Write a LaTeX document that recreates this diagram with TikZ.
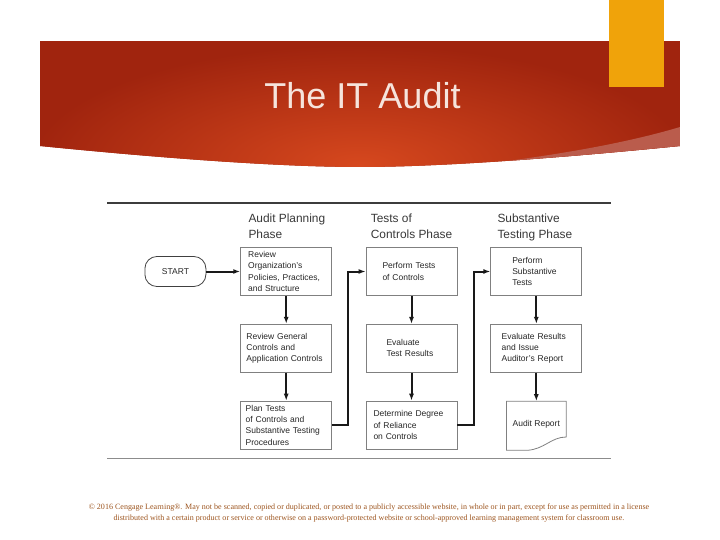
\documentclass[tikz,border=0pt]{standalone}
\usepackage{fontspec}
\setmainfont{Liberation Sans}
\newfontfamily\notefont{Liberation Serif}
\usetikzlibrary{arrows.meta,positioning,calc}
\definecolor{bc}{RGB}{160,36,14}
\definecolor{hc}{RGB}{214,72,30}
\definecolor{sc}{RGB}{186,92,76}
\definecolor{oc}{RGB}{240,163,10}
\definecolor{tc}{RGB}{246,228,220}
\definecolor{fc}{RGB}{156,84,30}
\definecolor{ln}{RGB}{60,60,60}
\tikzset{stage/.style={draw=black!50,line width=.8pt,minimum width=91pt,minimum height=48pt,inner sep=0pt,align=left,text=black!85,font=\fontsize{8.5}{11.3}\selectfont},
 hdr/.style={anchor=north west,inner sep=0pt,align=left,text=black!78,font=\fontsize{11.9}{15.3}\selectfont},
 term/.style={draw=black!75,line width=.8pt,rounded corners=12pt,minimum width=61pt,minimum height=30pt,font=\fontsize{8.5}{11}\selectfont,text=black!85},
 arr/.style={-{Latex[length=7pt,width=5pt]},line width=2pt,black!90},
 rule/.style={line width=1.8pt,ln}}

\begin{document}
\begin{tikzpicture}[x=1pt,y=-1pt,node distance=28pt]
\useasboundingbox (0,0) rectangle (720,540);
% banner
\begin{scope}
\clip (40,41) -- (680,41) -- (680,146) .. controls (520,162) and (420,167) .. (360,167) .. controls (300,167) and (200,162) .. (40,146) -- cycle;
\fill[bc] (40,41) rectangle (680,170);
\shade[inner color=hc,outer color=bc] (360,165) ellipse (330 and 120);
\fill[sc] (680,127) .. controls (620,145) and (540,158) .. (450,168) -- (680,170) -- cycle;
\end{scope}
\fill[oc] (609,0) rectangle (664,86.7);
\node[anchor=base,inner sep=0pt,font=\fontsize{36}{40}\selectfont,text=tc] (title) at (362.5,108.3) {The IT Audit};
% rules
\draw[rule] (107,202.7) -- (611,202.7);
\draw[line width=1.4pt,black!45] (107,458.5) -- (611,458.5);
% headers
\node[hdr] (h1) at (248.3,214) {Audit Planning\\Phase};
\node[hdr] (h2) at (370.7,214) {Tests of\\Controls Phase};
\node[hdr] (h3) at (497.3,214) {Substantive\\Testing Phase};
% planning
\node[stage,text width=76pt] (p1) at (286.2,271.5) {Review\\Organization's\\Policies, Practices,\\and Structure};
\node[stage,text width=79.5pt,below=of p1] (p2) {Review General\\Controls and\\Application Controls};
\node[stage,text width=81pt,below=of p2] (p3) {Plan Tests\\of Controls and\\Substantive Testing\\Procedures};
\node[term,left=34pt of p1] (start) {START};
% tests of controls
\node[stage,text width=58pt,right=33.5pt of p1] (c1) {Perform Tests\\of Controls};
\node[stage,text width=50pt,below=of c1] (c2) {Evaluate\\Test Results};
\node[stage,text width=76pt,below=of c2] (c3) {Determine Degree\\of Reliance\\on Controls};
% substantive
\node[stage,text width=48pt,right=33pt of c1] (s1) {Perform\\Substantive\\Tests};
\node[stage,text width=69.4pt,below=of s1] (s2) {Evaluate Results\\and Issue\\Auditor's Report};
\node[stage,draw=none,minimum width=59pt,minimum height=48.3pt,below=28.5pt of s2] (doc) {\raisebox{4.5pt}{Audit Report}};
\draw[draw=black!50,line width=.8pt] (doc.south west) |- (doc.north east) -- ($(doc.south east)+(0,-13.3)$) .. controls ($(doc.south east)+(-15,-13.3)$) and ($(doc.south)+(8,-1)$) .. ($(doc.south)+(-9,0)$) -- cycle;
% arrows
\draw[arr] (start) -- (p1);
\foreach \a/\b in {p1/p2,p2/p3,c1/c2,c2/c3,s1/s2,s2/doc}{\draw[arr] (\a)--(\b);}
\draw[arr] (p3.east) -- ++(16,0) |- (c1.west);
\draw[arr] (c3.east) -- ++(16.5,0) |- (s1.west);
% footer
\node[align=center,inner sep=0pt,text=fc,font=\notefont\fontsize{8.05}{11}\selectfont] (note) at (369,513.5) {\textcopyright{} 2016 Cengage Learning\textregistered. May not be scanned, copied or duplicated, or posted to a publicly accessible website, in whole or in part, except for use as permitted in a license\\distributed with a certain product or service or otherwise on a password-protected website or school-approved learning management system for classroom use.};
\end{tikzpicture}
\end{document}
